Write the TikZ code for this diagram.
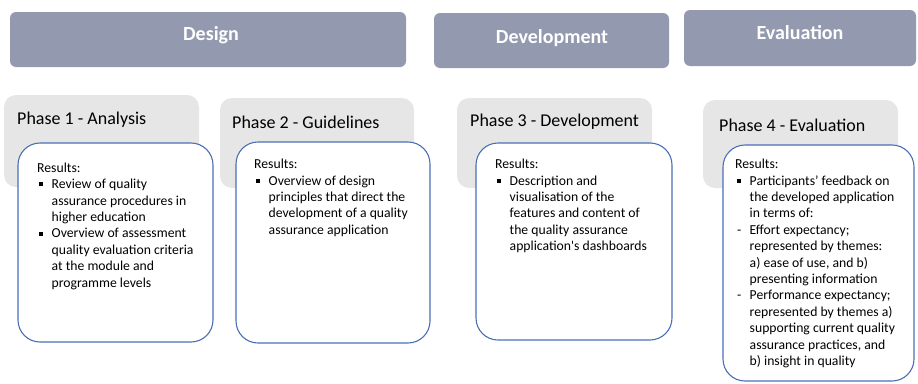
\documentclass[tikz,border=0pt]{standalone}
\usepackage{fontspec}
\setmainfont{Carlito}
\definecolor{hdrcol}{HTML}{939AAF}
\definecolor{phgray}{HTML}{E7E6E6}
\definecolor{resblue}{HTML}{4A6FB5}
\newcommand\bulx{\makebox[14.5pt][l]{\hspace{1.5pt}\rule[2.3pt]{4pt}{4pt}}}
\newcommand\dashx{\makebox[14.5pt][l]{\hspace{2pt}-}}
\newcommand\indx{\hspace*{14.5pt}}
\tikzset{
  hdrbox/.style={fill=hdrcol, draw=none, rounded corners=6pt, inner sep=0pt},
  hdrtext/.style={text=white, font=\fontsize{20}{23}\selectfont\bfseries, inner sep=0pt},
  phbox/.style={fill=phgray, draw=none, rounded corners=12pt, inner sep=0pt},
  phtext/.style={font=\fontsize{18}{21}\selectfont, inner sep=0pt, anchor=west},
  resbox/.style={fill=white, draw=resblue, line width=1.1pt, rounded corners=22pt, inner sep=0pt},
  restext/.style={font=\fontsize{13.7}{16.4}\selectfont, inner sep=0pt, anchor=north west, align=left}
}
\begin{document}
\begin{tikzpicture}[x=1pt,y=-1pt]
\useasboundingbox (0,0) rectangle (918,383);
% headers
\node[hdrbox, minimum width=396pt, minimum height=55pt] (design) at (208,39.5) {};
\node[hdrtext] (designlbl) at (211,35) {Design};
\node[hdrbox, minimum width=235pt, minimum height=55pt] (devel) at (551.5,40.5) {};
\node[hdrtext] (devellbl) at (552,38) {Development};
\node[hdrbox, minimum width=232pt, minimum height=56pt] (evalh) at (800,38) {};
\node[hdrtext] (evallbl) at (800,33) {Evaluation};
% phase grey boxes
\node[phbox, minimum width=195pt, minimum height=92pt] (p1) at (101.5,141) {};
\node[phbox, minimum width=194pt, minimum height=90pt] (p2) at (317,143) {};
\node[phbox, minimum width=195pt, minimum height=90pt] (p3) at (554.5,143) {};
\node[phbox, minimum width=195pt, minimum height=88pt] (p4) at (800.5,144) {};
\node[phtext] (p1t) at (17,120) {Phase 1 - Analysis};
\node[phtext] (p2t) at (232,122) {Phase 2 - Guidelines};
\node[phtext] (p3t) at (470,122) {Phase 3 - Development};
\node[phtext] (p4t) at (719,125) {Phase 4 - Evaluation};
% result boxes
\node[resbox, minimum width=195pt, minimum height=199pt] (r1) at (115.5,242.5) {};
\node[resbox, minimum width=194pt, minimum height=201pt] (r2) at (333,242.5) {};
\node[resbox, minimum width=196pt, minimum height=197pt] (r3) at (574,241.5) {};
\node[resbox, minimum width=191pt, minimum height=236pt] (r4) at (818.5,263) {};
% result texts
\node[restext] (r1t) at (37,162.5) {Results:\\
\bulx Review of quality\\
\indx assurance procedures in\\
\indx higher education\\
\bulx Overview of assessment\\
\indx quality evaluation criteria\\
\indx at the module and\\
\indx programme levels};
\node[restext] (r2t) at (254,159) {Results:\\
\bulx Overview of design\\
\indx principles that direct the\\
\indx development of a quality\\
\indx assurance application};
\node[restext] (r3t) at (495,159) {Results:\\
\bulx Description and\\
\indx visualisation of the\\
\indx features and content of\\
\indx the quality assurance\\
\indx application\textquotesingle s dashboards};
\node[restext] (r4t) at (735,159) {Results:\\
\bulx Participants’ feedback on\\
\indx the developed application\\
\indx in terms of:\\
\dashx Effort expectancy;\\
\indx represented by themes:\\
\indx a) ease of use, and b)\\
\indx presenting information\\
\dashx Performance expectancy;\\
\indx represented by themes a)\\
\indx supporting current quality\\
\indx assurance practices, and\\
\indx b) insight in quality};
\end{tikzpicture}
\end{document}
